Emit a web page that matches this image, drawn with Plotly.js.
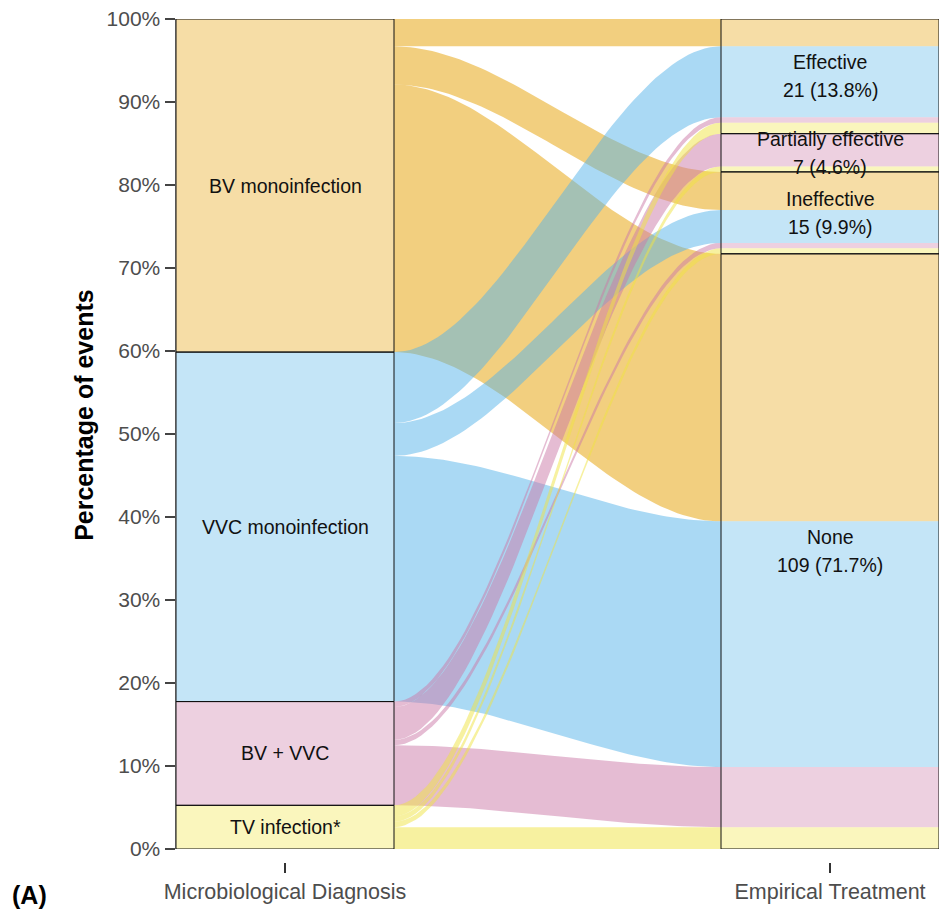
<!DOCTYPE html>
<html>
<head>
<meta charset="utf-8">
<script src="https://cdn.plot.ly/plotly-3.0.1.min.js"></script>
<style>html,body{margin:0;padding:0;background:#fff;}#chart{width:939px;height:914px;}</style>
</head>
<body>
<div id="chart"></div>
<script>
// ---- Data ----
const diagnoses = ['BV monoinfection', 'VVC monoinfection', 'BV + VVC', 'TV infection*'];
const treatments = ['Effective', 'Partially effective', 'Ineffective', 'None'];
const axisLabels = ['Microbiological Diagnosis', 'Empirical Treatment'];
// counts per diagnosis, in the order of treatments
const bvCounts = [5, 0, 7, 49];
const vvcCounts = [13, 0, 6, 45];
const bvVvcCounts = [1, 6, 1, 11];
const tvCounts = [2, 1, 1, 4];
const yTicks = [0, 10, 20, 30, 40, 50, 60, 70, 80, 90, 100];

// ---- Styles ----
const baseColors = [[230,159,0],[86,180,233],[204,121,167],[240,228,66]];
const FONT = '"Liberation Sans", Arial, Helvetica, sans-serif';
const W = 0.2; // stratum half width (axis units)
const rgba = (c, a) => `rgba(${c[0]},${c[1]},${c[2]},${a})`;

const counts = [bvCounts, vvcCounts, bvVvcCounts, tvCounts];
const N = counts.flat().reduce((a, b) => a + b, 0);
const pct = c => c / N * 100;
const diagTot = counts.map(r => r.reduce((a, b) => a + b, 0));
const treatTot = treatments.map((_, j) => counts.reduce((a, r) => a + r[j], 0));

// stratum tops
const leftTop = []; { let t = 100; diagTot.forEach((v, i) => { leftTop[i] = t; t -= pct(v); }); }
const rightTop = []; { let t = 100; treatTot.forEach((v, j) => { rightTop[j] = t; t -= pct(v); }); }

// lode positions
const leftLode = counts.map(() => []);
counts.forEach((r, i) => { let t = leftTop[i]; r.forEach((c, j) => { leftLode[i][j] = t; t -= pct(c); }); });
const rightLode = counts.map(() => []);
treatments.forEach((_, j) => { let t = rightTop[j]; counts.forEach((r, i) => { rightLode[i][j] = t; t -= pct(r[j]); }); });

const traces = [];
const smooth = t => t * t * (3 - 2 * t);
const NS = 60;
function curve(y0, y1, reverse) {
  const xs = [], ys = [];
  for (let k = 0; k <= NS; k++) {
    const t = reverse ? 1 - k / NS : k / NS;
    xs.push(W + (1 - 2 * W) * t);
    ys.push(y0 + (y1 - y0) * smooth(t));
  }
  return [xs, ys];
}
function rect(x0, x1, y0, y1) { return [[x0, x1, x1, x0, x0], [y0, y0, y1, y1, y0]]; }

// flows (drawn in diagnosis order)
counts.forEach((r, i) => {
  r.forEach((c, j) => {
    if (!c) return;
    const h = pct(c);
    const lt = leftLode[i][j], rt = rightLode[i][j];
    const [xa, ya] = curve(lt, rt, false);
    const [xb, yb] = curve(lt - h, rt - h, true);
    traces.push({ type: 'scatter', mode: 'lines', x: xa.concat(xb, [xa[0]]), y: ya.concat(yb, [ya[0]]),
      fill: 'toself', fillcolor: rgba(baseColors[i], 0.5), line: { width: 0 }, hoverinfo: 'skip', showlegend: false });
  });
});

// left strata fills
diagnoses.forEach((d, i) => {
  const [x, y] = rect(-W, W, leftTop[i], leftTop[i] - pct(diagTot[i]));
  traces.push({ type: 'scatter', mode: 'lines', x, y, fill: 'toself', fillcolor: rgba(baseColors[i], 0.35),
    line: { width: 0 }, hoverinfo: 'skip', showlegend: false });
});
// right lodes fills
counts.forEach((r, i) => {
  r.forEach((c, j) => {
    if (!c) return;
    const [x, y] = rect(1 - W, 1 + W, rightLode[i][j], rightLode[i][j] - pct(c));
    traces.push({ type: 'scatter', mode: 'lines', x, y, fill: 'toself', fillcolor: rgba(baseColors[i], 0.35),
      line: { width: 0 }, hoverinfo: 'skip', showlegend: false });
  });
});

// strata outlines
const shapes = [];
diagnoses.forEach((d, i) => shapes.push({ type: 'rect', xref: 'x', yref: 'y', x0: -W, x1: W,
  y0: leftTop[i] - pct(diagTot[i]), y1: leftTop[i], line: { color: '#111', width: 1 }, fillcolor: 'rgba(0,0,0,0)' }));
treatments.forEach((t, j) => shapes.push({ type: 'rect', xref: 'x', yref: 'y', x0: 1 - W, x1: 1 + W,
  y0: rightTop[j] - pct(treatTot[j]), y1: rightTop[j], line: { color: '#111', width: 1 }, fillcolor: 'rgba(0,0,0,0)' }));

const annotations = [];
const labFont = { family: FONT, size: 19.5, color: '#111' };
diagnoses.forEach((d, i) => annotations.push({ xref: 'x', yref: 'y', x: 0, y: leftTop[i] - pct(diagTot[i]) / 2,
  text: d, showarrow: false, font: labFont }));
treatments.forEach((t, j) => {
  const mid = rightTop[j] - pct(treatTot[j]) / 2;
  annotations.push({ xref: 'x', yref: 'y', x: 1, y: mid, yshift: 14, text: t, showarrow: false, font: labFont });
  annotations.push({ xref: 'x', yref: 'y', x: 1, y: mid, yshift: -14,
    text: `${treatTot[j]} (${pct(treatTot[j]).toFixed(1)}%)`, showarrow: false, font: labFont });
});
annotations.push({ xref: 'paper', yref: 'paper', x: -0.1205, xanchor: 'center', y: 0.5305, yanchor: 'middle',
  textangle: -90, showarrow: false,
  text: '<b>Percentage of events</b>', font: { family: FONT, size: 25, color: '#000' } });
annotations.push({ xref: 'paper', yref: 'paper', x: -0.218, xanchor: 'left', y: -0.039, yanchor: 'middle',
  showarrow: false, text: '<b>(A)</b>', font: { family: FONT, size: 25, color: '#000' } });

const layout = {
  width: 939, height: 914,
  margin: { l: 176, r: 0, t: 19, b: 52 },
  paper_bgcolor: '#fff', plot_bgcolor: '#fff',
  showlegend: false,
  xaxis: {
    range: [-W, 1 + W], anchor: 'free', position: 0,
    tickmode: 'array', tickvals: [0, 1], ticktext: axisLabels,
    ticks: 'outside', ticklen: 10, tickwidth: 2, tickcolor: '#333',
    showline: false, showgrid: false, zeroline: false,
    tickfont: { family: FONT, size: 21.5, color: '#4D4D4D' }, fixedrange: true
  },
  yaxis: {
    range: [0, 100], domain: [13 / 843, 1],
    tickmode: 'array', tickvals: yTicks, ticktext: yTicks.map(v => v + '%'),
    ticks: 'outside', ticklen: 10, tickwidth: 2, tickcolor: '#444',
    showline: true, linecolor: '#555', linewidth: 1.5,
    showgrid: false, zeroline: false,
    tickfont: { family: FONT, size: 21, color: '#4D4D4D' }, fixedrange: true
  },
  shapes, annotations
};

Plotly.newPlot('chart', traces, layout, { staticPlot: true, displayModeBar: false });
</script>
</body>
</html>
